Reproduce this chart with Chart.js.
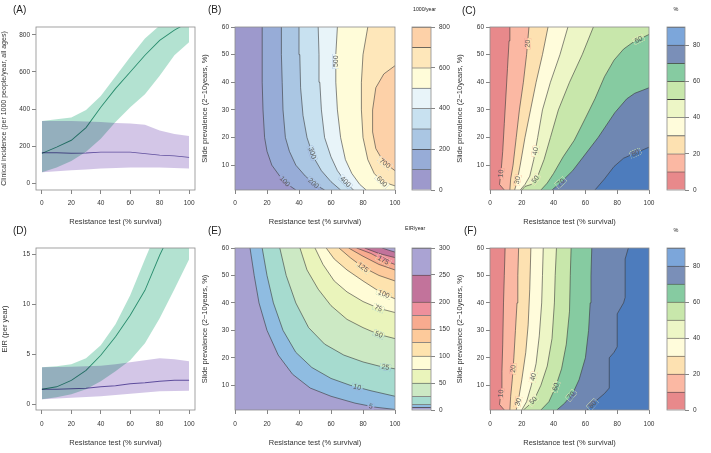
<!DOCTYPE html>
<html><head><meta charset="utf-8">
<script src="https://cdn.jsdelivr.net/npm/chart.js@4"></script>
<style>
body{margin:0;background:#fff;width:711px;height:453px;overflow:hidden;position:relative;font-family:"Liberation Sans",Arial,sans-serif}
canvas{position:absolute}
.t{position:absolute;color:#222;white-space:nowrap;line-height:1}
</style></head><body>
<script>
// ---------------- DATA ----------------
const XR = [0,10,20,30,40,50,60,70,80,90,100];
const XTICKS = [0,20,40,60,80,100];
const A_YTICKS = [0,200,400,600,800];
const D_YTICKS = [0,5,10,15];
const PREV_TICKS = [10,20,30,40,50,60];

// Panel A: clinical incidence
const A_G_MED = [161,195,232,300,410,510,600,690,770,825,870];
const A_G_LO  = [60,85,120,170,240,330,410,480,580,690,760];
const A_G_HI  = [335,345,355,395,470,575,680,780,850,890,910];
const A_P_MED = [165,165,162,163,168,168,168,160,152,148,140];
const A_P_LO  = [60,65,70,75,80,83,85,85,85,83,80];
const A_P_HI  = [335,335,335,333,330,325,322,315,285,265,255];

// Panel D: EIR
const D_G_MED = [1.5,1.75,2.4,3.4,4.9,6.75,8.9,11.4,14.9,18,20];
const D_G_LO  = [0.5,0.7,1.0,1.5,2.3,3.3,4.4,6.1,8.6,11.5,14.5];
const D_G_HI  = [3.7,3.8,4.0,4.6,5.9,8.0,10.9,14.5,18,20,22];
const D_P_MED = [1.5,1.5,1.55,1.6,1.75,1.85,2.05,2.15,2.3,2.4,2.4];
const D_P_LO  = [0.5,0.58,0.65,0.72,0.8,0.92,1.05,1.18,1.3,1.33,1.35];
const D_P_HI  = [3.7,3.72,3.75,3.8,3.85,4.0,4.2,4.4,4.6,4.5,4.3];

// Panel B: incidence contours (1000/year); contour i is level B_LEVELS[i+1]
const B_LEVELS = [0,100,200,300,400,500,600,700,800];
const B_CONTOURS = [
  [[38,1],[33,3],[28,6],[23,10],[20,15],[18.5,20],[17.5,30],[17,40],[17,50],[17,60]],
  [[56,1],[50,3],[44,6],[38,10],[34,15],[31.5,20],[30,30],[29.5,40],[29,50],[29,60]],
  [[66,1],[60,4],[54,8],[49,13],[45,20],[42.5,28],[41,38],[40.5,50],[40,60]],
  [[74,1],[69,4],[64,8],[60,13],[56,20],[54,30],[53,40],[52.5,50],[52,60]],
  [[82,1],[78,3],[73,7],[69,12],[66,20],[64,30],[63,40],[63,50],[64,60]],
  [[100,2.5],[92,4],[87,7],[83,12],[80,20],[79,30],[79,40],[80,50],[83,60]],
  [[100,8],[93,11],[88,16],[86,22],[86,30],[88,38],[93,43],[100,46]]
];
const B_LABELS = [[100,32,4.6],[200,49,3.4],[300,48,14.3],[400,69,4],[500,62,47.6],[600,91.7,4],[700,93.7,10.7]];

// Panel C: % (contours 10..80)
const C_LEVELS = [0,10,20,30,40,50,60,70,80,90];
const C_CONTOURS = [
  [[9,1],[6,3],[7,8],[8,15],[9,25],[10,35],[11,45],[12,55],[12.5,60]],
  [[12.5,1],[13,5],[14.5,10],[16.5,20],[18.5,30],[21,40],[23,50],[24.5,60]],
  [[15.5,1],[17,4],[19,10],[22,20],[25.5,30],[29,40],[33,50],[36.5,60]],
  [[19,1],[22,3],[25,6],[27.5,12],[30,20],[33,30],[38,40],[44,50],[49,60]],
  [[20,1],[22,2.3],[26,3],[30,6],[34,12],[38,20],[43,30],[50,40],[58,50],[65,60]],
  [[32,1],[36,3.5],[40,7],[46,13],[53,19],[60,27],[66,34],[72,42],[78,48],[84,52],[90,54.5],[100,57.3]],
  [[39,1],[45,4],[52,8],[60,14],[68,20],[78.5,29],[86,34],[91,36],[100,38]],
  [[66,1],[72,5],[78,9.5],[84,12.5],[90,14],[100,16.5]]
];
const C_LABELS = [[10,6.3,7],[20,23,54],[30,16.7,4.6],[40,29,15],[50,29,4.6],[60,93,56],[70,45,3.4],[80,91,15]];

// Panel E: EIR/year
const E_LEVELS = [0,5,10,25,50,75,100,125,150,175,200,250,300];
const E_CONTOURS = [
  [[9.4,60],[12,50],[15,40],[20,30],[27,21],[36,14],[47,9],[60,6],[75,3.5],[88,2],[100,1.2]],
  [[17,60],[20,50],[24,40],[30,30],[38,22],[48,16.5],[60,12.5],[72,10],[85,8],[100,6]],
  [[28,60],[32,50],[38,40],[46,31],[56,25],[68,21],[80,18.5],[90,17],[100,16]],
  [[40.6,60],[45,52],[52,45],[60,39],[70,34],[80,31],[90,28.5],[100,27]],
  [[50,60],[55,54],[62,48],[70,44],[80,40.5],[90,38],[100,36.5]],
  [[57,60],[62,56],[70,52],[80,48],[92,43.5],[100,41.5]],
  [[65,60],[72,56.5],[80,53],[90,50],[100,48]],
  [[71,60],[80,57],[90,54],[100,52]],
  [[76,60],[85,58],[93,55.5],[100,54]],
  [[81,60],[90,58],[100,56.5]],
  [[92,60],[96,59.2],[100,58.5]]
];
const E_LABELS = [[5,85,2.6],[10,77,10.7],[25,94,16.7],[50,89.6,28.2],[75,89.6,38],[100,92.7,42.8],[125,80,53],[175,92.7,55.5]];

// Panel F: %
const F_LEVELS = [0,10,20,30,40,50,60,70,80,90];
const F_CONTOURS = [
  [[9,1],[6,3],[7,8],[7.5,15],[8,25],[8.5,40],[9,50],[9.5,60]],
  [[12.5,1],[13,6],[14,12],[15,20],[16,30],[17,40],[17.5,50],[18,60]],
  [[16.5,1],[18,5],[20,12],[22.5,22],[24,32],[25,45],[25.7,60]],
  [[20,1],[23,4],[26,10],[29,18],[31,28],[32.5,40],[33,50],[33.5,60]],
  [[21,1],[24,2.5],[28,5],[32,10],[36,17],[39,27],[40.5,40],[41,50],[41.8,60]],
  [[32,1],[37,4],[41,9],[45,16],[48,25],[50,37],[50.5,50],[51,60]],
  [[42,1],[47,3.5],[52,7],[56,12],[60,20],[62,30],[63,40],[63.5,50],[64,60]],
  [[61,1],[66,4],[72,7],[75,9],[75,20],[78,22],[80,24],[80,36],[84,40],[85,42],[85,56],[87,60]]
];
const F_LABELS = [[10,6.3,7],[20,14.6,16],[30,16.7,4],[40,27,13],[50,28,4],[60,41,9.5],[70,50,6.8],[80,64,3.2]];

// ---------------- STYLE ----------------
const B_COLORS = ['#9d99cc','#97acd7','#aac6e3','#c8e1f0','#e8f4f9','#fffcd9','#fee7ba','#fdd1a8'];
const C_COLORS = ['#e8898b','#fbb8a3','#fde1b1','#fffcdb','#edf6c6','#c8e7ab','#86cba1','#6f87b2','#4d7cbd'];
const C_BAR_COLORS = ['#e8898b','#fbb8a3','#fde1b1','#fffcdb','#edf6c6','#c8e7ab','#86cba1','#7a8fb8','#7ca6da'];
const E_COLORS = ['#a7a1d1','#8fbce1','#a6dbcf','#cce9c4','#eaf4bb','#fffcd6','#fee3ae','#fdca9b','#f8ab8f','#ee909c','#c2739b','#aaa3d3'];
const FONT = '"Liberation Sans", Arial, Helvetica, sans-serif';
const GREEN_FILL = '#b3e2d1', PURPLE_FILL = '#d3c6e7';
const GREEN_LINE = '#3a9f86', PURPLE_LINE = '#7163ad';
const GRID_COLOR = 'rgba(60,60,110,0.2)';

Chart.defaults.font.family = FONT;
Chart.defaults.color = '#333';
Chart.defaults.animation = false;
Chart.defaults.events = [];
Chart.defaults.plugins.legend.display = false;
Chart.defaults.plugins.tooltip.enabled = false;

function mkCanvas(box){
  const c = document.createElement('canvas');
  c.width = box.w; c.height = box.h;
  c.style.left = box.x + 'px'; c.style.top = box.y + 'px';
  c.style.width = box.w + 'px'; c.style.height = box.h + 'px';
  document.body.appendChild(c);
  return c;
}
function txt(s, x, y, size, anchor){
  const d = document.createElement('div');
  d.className = 't'; d.textContent = s;
  d.style.fontSize = size + 'px';
  d.style.left = x + 'px'; d.style.top = (y - size/2) + 'px';
  if (anchor === 'c') d.style.transform = 'translateX(-50%)';
  document.body.appendChild(d);
}
const boxPlugin = { id:'boxp', afterDraw(chart){ const a=chart.chartArea, c=chart.ctx; c.save(); c.strokeStyle='#8c8c8c'; c.lineWidth=0.8; c.strokeRect(a.left, a.top, a.right-a.left, a.bottom-a.top); c.restore(); } };
// white backdrop + multiply blending so overlapping bands darken like the reference
const whiteBg = { id:'wbg', beforeDraw(chart){ const c=chart.ctx; c.save(); c.fillStyle='#fff'; c.fillRect(0,0,chart.width,chart.height); c.restore(); } };
const multiply = { id:'mult', beforeDatasetsDraw(chart){ chart.ctx.globalCompositeOperation='multiply'; }, afterDatasetsDraw(chart){ chart.ctx.globalCompositeOperation='source-over'; } };

function xAxis(h, pad){
  return { type:'linear', position:'bottom', min:0, max:100,
    afterBuildTicks: s => { s.ticks = XTICKS.map(v => ({value:v})); },
    afterFit: s => { s.height = h; s.paddingLeft = 0; s.paddingRight = 0; },
    grid:{drawOnChartArea:false, tickLength:4, color:'#666', lineWidth:0.8},
    border:{display:false},
    ticks:{font:{size:6.5}, color:'#333', padding:pad, maxRotation:0, autoSkip:false},
    title:{display:true, text:'Resistance test (% survival)', font:{size:7.5}, color:'#333', padding:0}
  };
}
function yAxis(w, min, max, ticks, title, tsize){
  return { type:'linear', position:'left', min, max,
    afterBuildTicks: s => { s.ticks = ticks.map(v => ({value:v})); },
    afterFit: s => { s.width = w; s.paddingTop = 0; s.paddingBottom = 0; },
    grid:{drawOnChartArea:false, tickLength:4, color:'#666', lineWidth:0.8},
    border:{display:false},
    ticks:{font:{size:6.5}, color:'#333', padding:2, autoSkip:false},
    title:{display:true, text:title, font:{size:tsize||7.5}, color:'#333', padding:0}
  };
}
function pts(xs, ys){ return xs.map((x,i) => ({x, y: ys[i]})); }

function bandChart(box, area, yr, yticks, ytitle, ytsize, G, P, xpad){
  const cv = mkCanvas(box);
  new Chart(cv, {
    type:'line',
    data:{ datasets:[
      {data:pts(XR,G.hi), fill:'+1', backgroundColor:GREEN_FILL, borderWidth:0, borderColor:'transparent', pointRadius:0, order:5},
      {data:pts(XR,G.lo), fill:false, borderWidth:0, borderColor:'transparent', pointRadius:0, order:5},
      {data:pts(XR,P.hi), fill:'+1', backgroundColor:PURPLE_FILL, borderWidth:0, borderColor:'transparent', pointRadius:0, order:4},
      {data:pts(XR,P.lo), fill:false, borderWidth:0, borderColor:'transparent', pointRadius:0, order:4},
      {data:pts(XR,G.med), fill:false, borderColor:GREEN_LINE, borderWidth:0.9, pointRadius:0, order:1},
      {data:pts(XR,P.med), fill:false, borderColor:PURPLE_LINE, borderWidth:0.9, pointRadius:0, order:0}
    ]},
    options:{ responsive:false, maintainAspectRatio:false,
      layout:{padding:{left:0, top:area.t-box.y, right:box.x+box.w-area.r, bottom:0}},
      scales:{
        x: Object.assign(xAxis(box.y+box.h-area.b, xpad), {min:-4, max:104}),
        y: yAxis(area.l-box.x, yr[0], yr[1], yticks, ytitle, ytsize)
      }
    },
    plugins:[whiteBg, multiply, boxPlugin]
  });
}

function contourChart(box, area, levels, contours, colors, labels, xpad){
  const cv = mkCanvas(box);
  const XMAX = 100, XOUT = XMAX + 5;
  const n = contours.length;
  const ds = [];
  contours.forEach((c, i) => {
    const poly = [{x:XOUT, y:c[0][1]}].concat(c.map(p => ({x:p[0], y:p[1]}))).concat([{x:XOUT, y:c[c.length-1][1]}]);
    ds.push({data:poly, fill:'shape', backgroundColor:colors[i+1], borderWidth:0, borderColor:'transparent', pointRadius:0, order:1000-i});
  });
  contours.forEach((c) => {
    ds.push({data:c.map(p => ({x:p[0], y:p[1]})), fill:false, borderColor:'rgba(55,55,55,0.85)', borderWidth:0.7, pointRadius:0, order:0});
  });
  const bgPlugin = { id:'bgp', beforeDatasetsDraw(chart){ const a=chart.chartArea, c=chart.ctx; c.save(); c.fillStyle=colors[0]; c.fillRect(a.left,a.top,a.right-a.left,a.bottom-a.top); c.restore(); } };
  const labelPlugin = { id:'lblp', afterDraw(chart){
    const ctx = chart.ctx, A = chart.chartArea, xs = chart.scales.x, ys = chart.scales.y;
    ctx.font = '7px ' + FONT;
    labels.forEach(([lv, lx, ly]) => {
      const ci = levels.indexOf(lv) - 1;
      if (ci < 0) return;
      const P = chart.getDatasetMeta(n + ci).data;
      const tx = xs.getPixelForValue(lx), ty = ys.getPixelForValue(ly);
      let best = null;
      for (let k = 0; k < P.length - 1; k++){
        const a = P[k], b = P[k+1]; const dx = b.x-a.x, dy = b.y-a.y; const L = dx*dx+dy*dy;
        let t = L ? ((tx-a.x)*dx + (ty-a.y)*dy)/L : 0; t = Math.max(0, Math.min(1, t));
        const px = a.x+t*dx, py = a.y+t*dy, d = (px-tx)**2 + (py-ty)**2;
        if (!best || d < best.d) best = {d, px, py, ang:Math.atan2(dy, dx)};
      }
      let ang = best.ang; if (ang > Math.PI/2) ang -= Math.PI; if (ang < -Math.PI/2) ang += Math.PI;
      const s = String(lv); const w = ctx.measureText(s).width;
      ctx.save();
      ctx.beginPath(); ctx.rect(A.left, A.top, A.right-A.left, A.bottom-A.top); ctx.clip();
      ctx.translate(best.px, best.py); ctx.rotate(ang);
      ctx.beginPath(); ctx.rect(-w/2-1.5, -3.2, w+3, 6.4);
      ctx.rotate(-ang); ctx.translate(-best.px, -best.py);
      ctx.clip();
      ctx.fillStyle = colors[0]; ctx.fillRect(A.left, A.top, A.right-A.left, A.bottom-A.top);
      for (let i = 0; i < n; i++){
        const m = chart.getDatasetMeta(i).data;
        ctx.beginPath(); m.forEach((p,k) => k ? ctx.lineTo(p.x,p.y) : ctx.moveTo(p.x,p.y)); ctx.closePath();
        ctx.fillStyle = colors[i+1]; ctx.fill();
      }
      ctx.restore();
      ctx.save(); ctx.translate(best.px, best.py); ctx.rotate(ang);
      ctx.fillStyle = '#5a5a5a'; ctx.textAlign='center'; ctx.textBaseline='middle'; ctx.font = '7px ' + FONT;
      ctx.fillText(s, 0, 0.3); ctx.restore();
    });
  }};
  const gridX = [], gridY = [];
  for (let v = 5; v < 100; v += 5) gridX.push(v);
  for (let v = 2.5; v < 60; v += 2.5) gridY.push(v);
  new Chart(cv, {
    type:'line',
    data:{datasets:ds},
    options:{ responsive:false, maintainAspectRatio:false,
      layout:{padding:{left:0, top:area.t-box.y, right:box.x+box.w-area.r, bottom:0}},
      scales:{
        x: xAxis(box.y+box.h-area.b, xpad),
        y: yAxis(area.l-box.x, 1, 60, PREV_TICKS, 'Slide prevalence (2\u221210years, %)'),
        gx: { type:'linear', axis:'x', position:'bottom', min:0, max:100, z:1,
          afterBuildTicks: s => { s.ticks = gridX.map(v => ({value:v})); },
          afterFit: s => { s.height = 0; s.paddingLeft = 0; s.paddingRight = 0; },
          ticks:{display:false}, grid:{drawTicks:false, color:GRID_COLOR, lineWidth:0.6}, border:{display:false} },
        gy: { type:'linear', axis:'y', position:'left', min:1, max:60, z:1,
          afterBuildTicks: s => { s.ticks = gridY.map(v => ({value:v})); },
          afterFit: s => { s.width = 0; s.paddingTop = 0; s.paddingBottom = 0; },
          ticks:{display:false}, grid:{drawTicks:false, color:GRID_COLOR, lineWidth:0.6}, border:{display:false} }
      }
    },
    plugins:[bgPlugin, boxPlugin, labelPlugin]
  });
}

function colorbar(box, area, levels, colors, ticks){
  const cv = mkCanvas(box);
  const ds = colors.map((c, i) => ({
    data:[levels[i+1]-levels[i]], backgroundColor:c, borderColor:'#3d3d3d',
    borderWidth:{top:0.8, bottom:0, left:0, right:0}, borderSkipped:false,
    barPercentage:1, categoryPercentage:1
  }));
  new Chart(cv, {
    type:'bar',
    data:{labels:[''], datasets:ds},
    options:{ responsive:false, maintainAspectRatio:false,
      layout:{padding:{left:area.l-box.x, top:area.t-box.y, right:0, bottom:box.y+box.h-area.b}},
      scales:{
        x:{display:false, stacked:true},
        y:{ stacked:true, position:'right', min:levels[0], max:levels[levels.length-1],
          afterBuildTicks: s => { s.ticks = ticks.map(v => ({value:v})); },
          afterFit: s => { s.width = box.x+box.w-area.r; s.paddingTop = 0; s.paddingBottom = 0; },
          grid:{drawOnChartArea:false, tickLength:4, color:'#666', lineWidth:0.8},
          border:{display:false},
          ticks:{font:{size:6.5}, color:'#333', padding:4, autoSkip:false} }
      }
    },
    plugins:[boxPlugin]
  });
}

// ---------------- LAYOUT ----------------
const R1 = {y:0, h:226, t:27, b:190, xpad:5.4};
const R2 = {y:226, h:221, t:248, b:410, xpad:6.4};

[R1, R2].forEach((R, ri) => {
  const top = ri === 0;
  if (top) bandChart({x:0,y:R.y,w:200,h:R.h}, {l:36,t:R.t,r:195,b:R.b}, [-36,842], A_YTICKS,
    'Clinical incidence (per 1000 people/year, all ages)', 7, {med:A_G_MED, lo:A_G_LO, hi:A_G_HI}, {med:A_P_MED, lo:A_P_LO, hi:A_P_HI}, R.xpad);
  else bandChart({x:0,y:R.y,w:200,h:R.h}, {l:36,t:R.t,r:195,b:R.b}, [-0.57,15.63], D_YTICKS,
    'EIR (per year)', 7.5, {med:D_G_MED, lo:D_G_LO, hi:D_G_HI}, {med:D_P_MED, lo:D_P_LO, hi:D_P_HI}, R.xpad);
  if (top) {
    contourChart({x:200,y:R.y,w:205,h:R.h}, {l:235,t:R.t,r:395,b:R.b}, B_LEVELS, B_CONTOURS, B_COLORS, B_LABELS, R.xpad);
    colorbar({x:405,y:R.y,w:50,h:R.h}, {l:412,t:R.t,r:431,b:R.b}, B_LEVELS, B_COLORS, [0,200,400,600,800]);
    contourChart({x:455,y:R.y,w:200,h:R.h}, {l:490,t:R.t,r:649,b:R.b}, C_LEVELS, C_CONTOURS, C_COLORS, C_LABELS, R.xpad);
    colorbar({x:655,y:R.y,w:56,h:R.h}, {l:667,t:R.t,r:685,b:R.b}, C_LEVELS, C_BAR_COLORS, [0,20,40,60,80]);
  } else {
    contourChart({x:200,y:R.y,w:205,h:R.h}, {l:235,t:R.t,r:395,b:R.b}, E_LEVELS, E_CONTOURS, E_COLORS, E_LABELS, R.xpad);
    colorbar({x:405,y:R.y,w:50,h:R.h}, {l:412,t:R.t,r:431,b:R.b}, E_LEVELS, E_COLORS, [0,50,100,150,200,250,300]);
    contourChart({x:455,y:R.y,w:200,h:R.h}, {l:490,t:R.t,r:649,b:R.b}, F_LEVELS, F_CONTOURS, C_COLORS, F_LABELS, R.xpad);
    colorbar({x:655,y:R.y,w:56,h:R.h}, {l:667,t:R.t,r:685,b:R.b}, F_LEVELS, C_BAR_COLORS, [0,20,40,60,80]);
  }
});

txt('(A)', 13, 10, 10); txt('(B)', 208, 10, 10); txt('(C)', 462, 11, 10);
txt('(D)', 13, 231, 10); txt('(E)', 208, 231, 10); txt('(F)', 464, 231, 10);
txt('1000/year', 413, 10, 5.2); txt('EIR/year', 405, 228.5, 5.2);
txt('%', 676, 10, 5.5, 'c'); txt('%', 676, 231, 5.5, 'c');
</script>
</body></html>
